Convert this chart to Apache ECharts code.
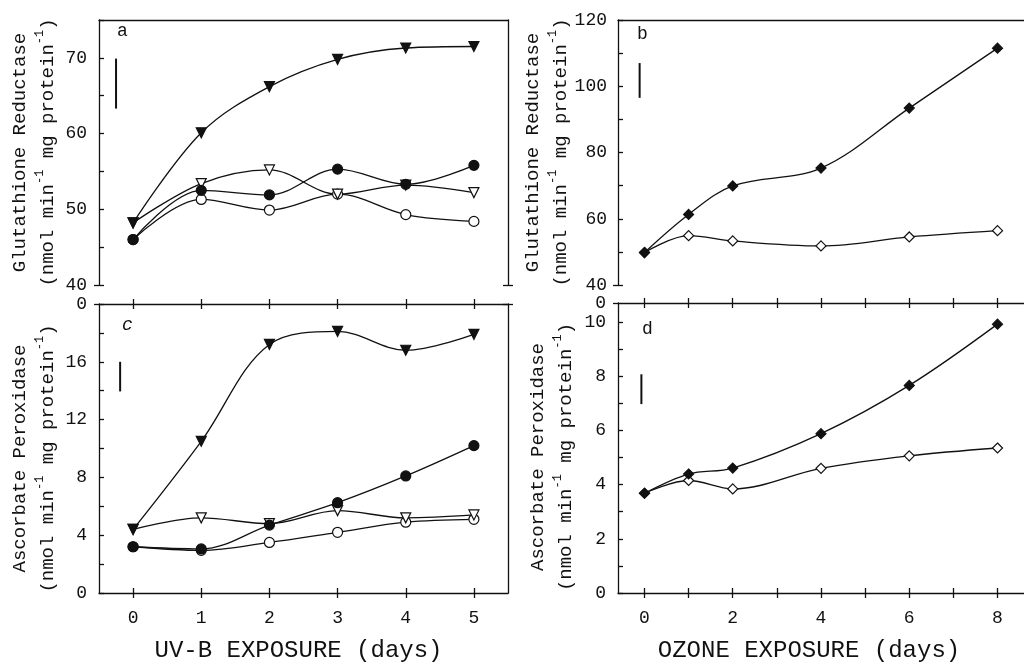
<!DOCTYPE html>
<html>
<head>
<meta charset="utf-8">
<script src="https://cdn.jsdelivr.net/npm/echarts@6/dist/echarts.min.js"></script>
<style>
  html, body { margin: 0; background: #fff; }
  #chart { width: 1024px; height: 669px; }
</style>
</head>
<body>
<div id="chart"></div>
<script>
// Days of exposure
const uvDays = [0, 1, 2, 3, 4, 5];
const ozoneDays = [0, 1, 2, 4, 6, 8];

// Panel a: glutathione reductase, UV-B
const grUvFilledTri = [48.2, 60.1, 66.2, 69.8, 71.3, 71.5];
const grUvOpenTri = [48.2, 53.4, 55.2, 52.0, 53.2, 52.2];
const grUvFilledCircle = [46.0, 52.5, 51.9, 55.3, 53.3, 55.8];
const grUvOpenCircle = [46.0, 51.3, 49.9, 52.0, 49.3, 48.4];

// Panel b: glutathione reductase, ozone
const grOzFilled = [49.8, 61.3, 69.9, 75.3, 93.4, 111.5];
const grOzOpen = [49.8, 54.9, 53.3, 51.8, 54.5, 56.4];

// Panel c: ascorbate peroxidase, UV-B
const apUvFilledTri = [4.4, 10.5, 17.2, 18.1, 16.8, 17.9];
const apUvOpenTri = [4.4, 5.2, 4.8, 5.7, 5.2, 5.4];
const apUvFilledCircle = [3.2, 3.05, 4.7, 6.25, 8.1, 10.2];
const apUvOpenCircle = [3.2, 2.95, 3.5, 4.2, 4.9, 5.1];

// Panel d: ascorbate peroxidase, ozone
const apOzFilled = [3.68, 4.39, 4.61, 5.88, 7.66, 9.92];
const apOzOpen = [3.68, 4.15, 3.84, 4.6, 5.06, 5.35];

// LSD bars (panel a, b, c, d)
const lsdX = [-0.25, -0.11, -0.19, -0.07];
const lsdLow = [63.3, 96.5, 13.95, 6.97];
const lsdHigh = [69.9, 107.0, 16.0, 8.07];

// Tick values and tick labels
const aYTicks = [40, 45, 50, 55, 60, 65, 70, 75];
const aYLabels = [40, 50, 60, 70];
const bYTicks = [40, 50, 60, 70, 80, 90, 100, 110, 120];
const bYLabels = [40, 60, 80, 100, 120];
const cYTicks = [0, 2, 4, 6, 8, 10, 12, 14, 16, 18, 20];
const cYLabels = [0, 4, 8, 12, 16, 20];
const cYLabelText = ['0', '4', '8', '12', '16', '0'];
const dYTicks = [0, 1, 2, 3, 4, 5, 6, 7, 8, 9, 10];
const dYLabels = [0, 2, 4, 6, 8, 10, 10.7];
const dYLabelText = ['0', '2', '4', '6', '8', '10', '0'];
const uvXTicks = [0, 1, 2, 3, 4, 5];
const ozXTicks = [0, 1, 2, 3, 4, 5, 6, 7, 8];
const ozXLabels = [0, 2, 4, 6, 8];

const MONO = '"Liberation Mono", "DejaVu Sans Mono", monospace';
const INK = '#111';
const AX = { color: INK, width: 1.3 };

const xAxes = [];
const yAxes = [];

// build one value axis and return its index
function axis(dim, grid, pos, min, max, o) {
    o = o || {};
    const a = {
        type: 'value', gridIndex: grid, position: pos, min: min, max: max,
        axisLine: { show: !!o.line, onZero: false, lineStyle: AX },
        axisTick: { show: !!o.ticks, inside: !!o.inside, length: o.tickLen || 5, customValues: o.ticks, lineStyle: AX },
        axisLabel: { show: !!o.labels, customValues: o.labels, margin: o.margin || 12,
                     fontFamily: MONO, fontSize: 18, color: INK },
        splitLine: { show: false },
        silent: true
    };
    if (o.fmt) a.axisLabel.formatter = o.fmt;
    if (o.name) {
        a.name = o.name;
        a.nameLocation = 'middle';
        a.nameGap = o.nameGap;
        a.nameTextStyle = o.nameStyle;
    }
    const list = dim === 'x' ? xAxes : yAxes;
    list.push(a);
    return list.length - 1;
}

const yTitleRich = {
    t: { fontFamily: MONO, fontSize: 19, color: INK, lineHeight: 28 },
    s: { fontFamily: MONO, fontSize: 12, color: INK, lineHeight: 12, verticalAlign: 'top' }
};
const grTitle = '{t|Glutathione Reductase}\n{t|(nmol min}{s|-1}{t| mg protein}{s|-1}{t|)}';
const apTitle = '{t|Ascorbate Peroxidase}\n{t|(nmol min}{s|-1}{t| mg protein}{s|-1}{t|)}';

function labelFmt(values, texts) {
    return function (v) {
        const i = values.findIndex(x => Math.abs(x - v) < 1e-6);
        return i >= 0 ? texts[i] : String(v);
    };
}

const grids = [
    { left: 99, top: 20, width: 409, height: 265 },
    { left: 618, top: 20, width: 417, height: 265 },
    { left: 99, top: 304, width: 409, height: 289 },
    { left: 618, top: 303, width: 417, height: 290 }
];

// panel a
const axA = axis('x', 0, 'bottom', -0.5, 5.5, {});
axis('x', 0, 'top', -0.5, 5.5, { line: true });
const ayA = axis('y', 0, 'left', 40, 75, {
    line: true, ticks: aYTicks, inside: true, labels: aYLabels, margin: 12,
    name: grTitle, nameGap: 37, nameStyle: { rich: yTitleRich }
});
axis('y', 0, 'left', 40, 75, { ticks: [40], tickLen: 5 });
axis('y', 0, 'right', 40, 75, { line: true, ticks: [40], inside: true });
axis('y', 0, 'right', 40, 75, { ticks: [40] });

// panel b
const axB = axis('x', 1, 'bottom', -0.6, 8.6, {});
axis('x', 1, 'top', -0.6, 8.6, { line: true });
const ayB = axis('y', 1, 'left', 40, 120, {
    line: true, ticks: bYTicks, inside: true, labels: bYLabels, margin: 11,
    name: grTitle, nameGap: 38, nameStyle: { rich: yTitleRich }
});
axis('y', 1, 'left', 40, 120, { ticks: [40] });

// panel c
const axC = axis('x', 2, 'bottom', -0.5, 5.5, {
    line: true, ticks: uvXTicks, labels: uvXTicks, margin: 16,
    name: 'UV-B EXPOSURE (days)', nameGap: 46,
    nameStyle: { fontFamily: MONO, fontSize: 24, color: INK, padding: [0, 10, 0, 0] }
});
axis('x', 2, 'bottom', -0.5, 5.5, { ticks: uvXTicks, inside: true });
axis('x', 2, 'top', -0.5, 5.5, { line: true, ticks: uvXTicks, inside: true });
axis('x', 2, 'top', -0.5, 5.5, { ticks: uvXTicks });
const ayC = axis('y', 2, 'left', 0, 20, {
    line: true, ticks: cYTicks, inside: true, labels: cYLabels, margin: 12,
    fmt: labelFmt(cYLabels, cYLabelText),
    name: apTitle, nameGap: 37, nameStyle: { rich: yTitleRich, padding: [0, 20, 0, 0] }
});
axis('y', 2, 'left', 0, 20, { ticks: [20] });
axis('y', 2, 'right', 0, 20, { line: true, ticks: [20], inside: true });
axis('y', 2, 'right', 0, 20, { ticks: [20] });

// panel d
const axD = axis('x', 3, 'bottom', -0.6, 8.6, {
    line: true, ticks: ozXTicks, labels: ozXLabels, margin: 16,
    name: 'OZONE EXPOSURE (days)', nameGap: 46,
    nameStyle: { fontFamily: MONO, fontSize: 24, color: INK, padding: [0, 24, 0, 0] }
});
axis('x', 3, 'bottom', -0.6, 8.6, { ticks: ozXTicks, inside: true });
axis('x', 3, 'top', -0.6, 8.6, { line: true, ticks: ozXTicks, inside: true });
axis('x', 3, 'top', -0.6, 8.6, { ticks: ozXTicks });
const ayD = axis('y', 3, 'left', 0, 10.7, {
    line: true, ticks: dYTicks, inside: true, labels: dYLabels, margin: 12,
    fmt: labelFmt(dYLabels, dYLabelText),
    name: apTitle, nameGap: 38, nameStyle: { rich: yTitleRich, padding: [0, 18, 0, 0] }
});
axis('y', 3, 'left', 0, 10.7, { ticks: [10.7] });

function lineSeries(xi, yi, xs, ys, symbol, filled, size, rotate) {
    return {
        type: 'line', xAxisIndex: xi, yAxisIndex: yi,
        data: xs.map((x, i) => [x, ys[i]]),
        smooth: 0.35, symbol: symbol, symbolSize: size, symbolRotate: rotate || 0,
        showAllSymbol: true,
        lineStyle: { color: INK, width: 1.3 },
        itemStyle: { color: filled ? INK : '#fff', borderColor: INK, borderWidth: 1.2, opacity: 1 },
        z: filled ? 4 : 3, silent: true
    };
}

function lsdSeries(xi, yi, k) {
    return {
        type: 'line', xAxisIndex: xi, yAxisIndex: yi,
        data: [[lsdX[k], lsdLow[k]], [lsdX[k], lsdHigh[k]]],
        symbol: 'none', lineStyle: { color: INK, width: 2 }, silent: true
    };
}

const series = [
    lineSeries(axA, ayA, uvDays, grUvOpenCircle, 'circle', false, 10),
    lineSeries(axA, ayA, uvDays, grUvOpenTri, 'triangle', false, 10, 180),
    lineSeries(axA, ayA, uvDays, grUvFilledCircle, 'circle', true, 10),
    lineSeries(axA, ayA, uvDays, grUvFilledTri, 'triangle', true, 10, 180),
    lineSeries(axB, ayB, ozoneDays, grOzOpen, 'diamond', false, 10),
    lineSeries(axB, ayB, ozoneDays, grOzFilled, 'diamond', true, 10),
    lineSeries(axC, ayC, uvDays, apUvOpenCircle, 'circle', false, 10),
    lineSeries(axC, ayC, uvDays, apUvOpenTri, 'triangle', false, 10, 180),
    lineSeries(axC, ayC, uvDays, apUvFilledCircle, 'circle', true, 10),
    lineSeries(axC, ayC, uvDays, apUvFilledTri, 'triangle', true, 10, 180),
    lineSeries(axD, ayD, ozoneDays, apOzOpen, 'diamond', false, 10),
    lineSeries(axD, ayD, ozoneDays, apOzFilled, 'diamond', true, 10),
    lsdSeries(axA, ayA, 0),
    lsdSeries(axB, ayB, 1),
    lsdSeries(axC, ayC, 2),
    lsdSeries(axD, ayD, 3)
];

// panel letters
function letter(text, x, y, italic) {
    return {
        type: 'text', left: x, top: y,
        style: { text: text, font: (italic ? 'italic ' : '') + '18px "Liberation Mono", monospace', fill: INK }
    };
}

const chart = echarts.init(document.getElementById('chart'), null, { renderer: 'canvas' });
chart.setOption({
    animation: false,
    backgroundColor: '#fff',
    grid: grids,
    xAxis: xAxes,
    yAxis: yAxes,
    series: series,
    graphic: [
        letter('a', 117, 22),
        letter('b', 637, 25),
        letter('c', 122, 316, true),
        letter('d', 642, 320)
    ]
});
</script>
</body>
</html>
